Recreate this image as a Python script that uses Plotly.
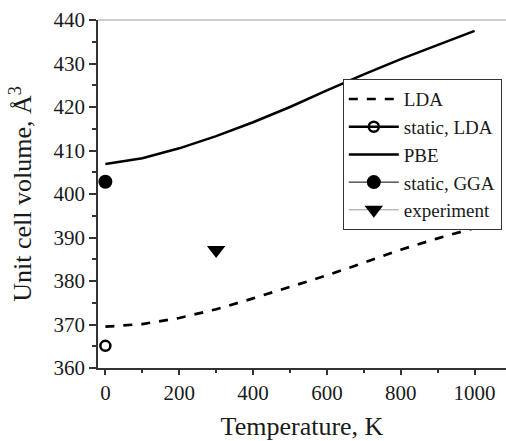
import plotly.graph_objects as go

T = [0, 100, 200, 300, 400, 500, 600, 700, 800, 900, 1000]
lda = [369.5, 370.1, 371.5, 373.5, 376.0, 378.7, 381.3, 384.2, 387.2, 389.8, 392.2]
pbe = [406.9, 408.2, 410.5, 413.3, 416.5, 420.0, 423.8, 427.5, 431.0, 434.3, 437.5]
static_lda_T = [0]
static_lda_V = [365.1]
static_gga_T = [0]
static_gga_V = [402.8]
exp_T = [300]
exp_V = [387.1]

font = "Liberation Serif"

fig = go.Figure()
fig.add_trace(go.Scatter(x=T, y=lda, mode="lines", name="LDA",
                         line=dict(color="black", width=2.7, dash="dash")))
fig.add_trace(go.Scatter(x=static_lda_T, y=static_lda_V, mode="lines+markers", name="static, LDA",
                         line=dict(color="black", width=2.5),
                         marker=dict(symbol="circle-open", size=10, color="black", line=dict(width=2.5))))
fig.add_trace(go.Scatter(x=T, y=pbe, mode="lines", name="PBE",
                         line=dict(color="black", width=2.5)))
fig.add_trace(go.Scatter(x=static_gga_T, y=static_gga_V, mode="lines+markers", name="static, GGA",
                         line=dict(color="black", width=1),
                         marker=dict(symbol="circle", size=14, color="black")))
fig.add_trace(go.Scatter(x=exp_T, y=exp_V, mode="lines+markers", name="experiment",
                         line=dict(color="#999999", width=1),
                         marker=dict(symbol="triangle-down", size=16, color="black")))

fig.update_layout(
    width=506, height=441,
    margin=dict(l=98, r=0, t=20, b=73),
    plot_bgcolor="white", paper_bgcolor="white",
    font=dict(family=font, color="#1a1a1a", size=20),
    showlegend=True,
    legend=dict(x=0.6, y=0.83, xanchor="left", yanchor="top",
                bordercolor="#333333", borderwidth=1, bgcolor="white",
                font=dict(family=font, size=19), itemwidth=50),
    xaxis=dict(range=[-20, 1085], tickvals=[0, 200, 400, 600, 800, 1000],
               automargin=False,
               ticks="outside", ticklen=5, tickwidth=1.5, tickcolor="#333333",
               showline=True, linecolor="#333333", linewidth=1.5,
               showgrid=False, zeroline=False,
               minor=dict(dtick=100, ticks="outside", ticklen=3, tickcolor="#333333", tickwidth=1.5),
               tickfont=dict(family=font, size=21),
               title=dict(text="Temperature, K", font=dict(family=font, size=26), standoff=13)),
    yaxis=dict(range=[360, 440], dtick=10,
               automargin=False,
               ticks="outside", ticklen=7, tickwidth=1.5, tickcolor="#333333",
               showline=True, linecolor="#333333", linewidth=1.5,
               showgrid=False, zeroline=False,
               minor=dict(dtick=5, ticks="outside", ticklen=4, tickcolor="#333333", tickwidth=1.5),
               tickfont=dict(family=font, size=21),
               title=dict(text="Unit cell volume, Å<sup>3</sup>", font=dict(family=font, size=26), standoff=14)),
)
fig.add_shape(type="line", xref="paper", yref="paper", x0=0, x1=1, y0=1, y1=1,
              line=dict(color="#999999", width=1))

fig.write_html("out.html", config={"displayModeBar": False},
               post_script="document.body.style.margin='0';")
